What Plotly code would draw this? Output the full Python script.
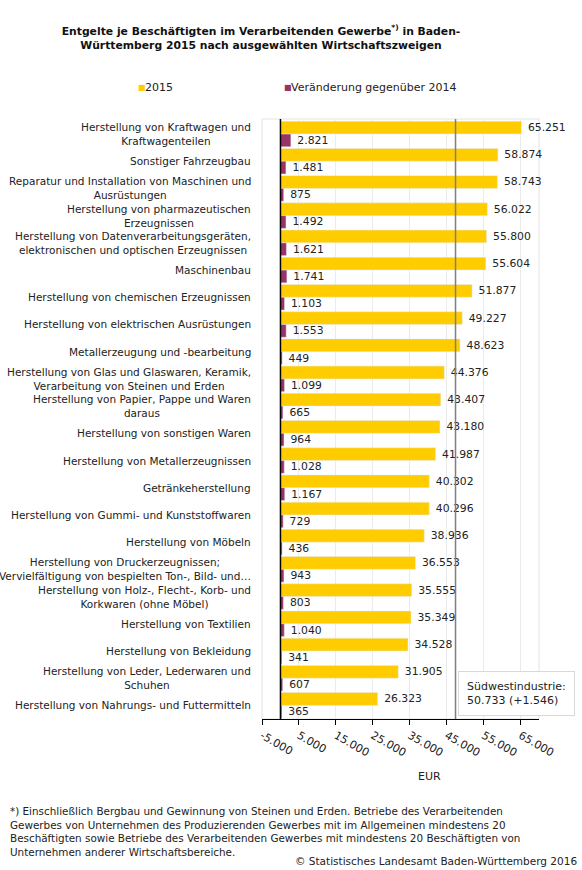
import plotly.graph_objects as go

# Entgelte je Beschaeftigten 2015 und Veraenderung gegenueber 2014 (EUR)
branchen = [
    "Herstellung von Kraftwagen und<br>Kraftwagenteilen",
    "Sonstiger Fahrzeugbau",
    "Reparatur und Installation von Maschinen und<br>Ausrüstungen",
    "Herstellung von pharmazeutischen<br>Erzeugnissen",
    "Herstellung von Datenverarbeitungsgeräten,<br>elektronischen und optischen Erzeugnissen",
    "Maschinenbau",
    "Herstellung von chemischen Erzeugnissen",
    "Herstellung von elektrischen Ausrüstungen",
    "Metallerzeugung und -bearbeitung",
    "Herstellung von Glas und Glaswaren, Keramik,<br>Verarbeitung von Steinen und Erden",
    "Herstellung von Papier, Pappe und Waren<br>daraus",
    "Herstellung von sonstigen Waren",
    "Herstellung von Metallerzeugnissen",
    "Getränkeherstellung",
    "Herstellung von Gummi- und Kunststoffwaren",
    "Herstellung von Möbeln",
    "Herstellung von Druckerzeugnissen;<br>Vervielfältigung von bespielten Ton-, Bild- und…",
    "Herstellung von Holz-, Flecht-, Korb- und<br>Korkwaren (ohne Möbel)",
    "Herstellung von Textilien",
    "Herstellung von Bekleidung",
    "Herstellung von Leder, Lederwaren und<br>Schuhen",
    "Herstellung von Nahrungs- und Futtermitteln",
]
werte_2015 = [65251, 58874, 58743, 56022, 55800, 55604, 51877, 49227, 48623, 44376, 43407,
              43180, 41987, 40302, 40296, 38936, 36553, 35555, 35349, 34528, 31905, 26323]
veraenderung = [2821, 1481, 875, 1492, 1621, 1741, 1103, 1553, 449, 1099, 665,
                964, 1028, 1167, 729, 436, 943, 803, 1040, 341, 607, 365]

tick_werte = [-5000, 5000, 15000, 25000, 35000, 45000, 55000, 65000]
tick_texte = [f"{v:,}".replace(",", ".") for v in tick_werte]

suedwest = "Südwestindustrie:<br>50.733 (+1.546)"
linie_x = 47400  # grey reference line, as drawn in the original

GELB = "#FFCC00"
LILA = "#993366"
FONT = "DejaVu Sans"
TXT = "#222222"

fig = go.Figure()
fig.add_trace(go.Bar(
    y=list(range(len(branchen))), x=werte_2015, orientation="h", name="2015",
    marker_color=GELB, texttemplate=" %{x:,}", textposition="outside",
    textfont=dict(size=11, color=TXT), cliponaxis=False,
))
fig.add_trace(go.Bar(
    y=list(range(len(branchen))), x=veraenderung, orientation="h",
    name="Veränderung gegenüber 2014",
    marker_color=LILA, texttemplate=" %{x:,}", textposition="outside",
    textfont=dict(size=11, color=TXT), cliponaxis=False,
))


def px_x(p):
    return (p - 262) / 277


def px_y(p):
    return (719 - p) / 600


ann = []
for i, b in enumerate(branchen):
    ann.append(dict(xref="paper", yref="y", x=0, y=i, xanchor="right", xshift=-9,
                    text=b, showarrow=False, align="center",
                    font=dict(size=10.5, color=TXT)))

# legend drawn as text
for sx, tx, farbe, name in [(136, 143, GELB, "2015"),
                            (282, 289, LILA, "Veränderung gegenüber 2014")]:
    ann.append(dict(xref="paper", yref="paper", x=px_x(sx), y=px_y(88),
                    xanchor="left", yanchor="middle", showarrow=False,
                    text="■", font=dict(size=8, color=farbe)))
    ann.append(dict(xref="paper", yref="paper", x=px_x(tx), y=px_y(87),
                    xanchor="left", yanchor="middle", showarrow=False,
                    text=name, font=dict(size=11, color=TXT)))

ann.append(dict(xref="paper", yref="paper", x=px_x(458), y=px_y(671),
                xanchor="left", yanchor="top", showarrow=False, align="left",
                text=suedwest, bgcolor="white", bordercolor="#D9D9D9", borderwidth=1,
                borderpad=8, font=dict(size=11, color=TXT)))

ann.append(dict(xref="paper", yref="paper", x=px_x(429), y=px_y(776),
                xanchor="center", yanchor="middle", showarrow=False,
                text="EUR", font=dict(size=11, color=TXT)))

fussnote = ("*) Einschließlich Bergbau und Gewinnung von Steinen und Erden. Betriebe des Verarbeitenden<br>"
            "Gewerbes von Unternehmen des Produzierenden Gewerbes mit im Allgemeinen mindestens 20<br>"
            "Beschäftigten sowie Betriebe des Verarbeitenden Gewerbes mit mindestens 20 Beschäftigten von<br>"
            "Unternehmen anderer Wirtschaftsbereiche.")
ann.append(dict(xref="paper", yref="paper", x=px_x(8), y=px_y(803),
                xanchor="left", yanchor="top", showarrow=False, align="left",
                text=fussnote, font=dict(size=10.4, color=TXT)))
ann.append(dict(xref="paper", yref="paper", x=px_x(579), y=px_y(861),
                xanchor="right", yanchor="middle", showarrow=False,
                text="© Statistisches Landesamt Baden-Württemberg 2016",
                font=dict(size=10.5, color=TXT)))

fig.update_layout(
    width=582, height=870,
    margin=dict(l=262, r=43, t=119, b=151),
    paper_bgcolor="white", plot_bgcolor="white",
    font=dict(family=FONT, size=11, color=TXT),
    separators=",.",
    barmode="group", bargap=0.06, bargroupgap=0,
    showlegend=False,
    title=dict(text="Entgelte je Beschäftigten im Verarbeitenden Gewerbe<sup>*)</sup> in Baden-<br>"
                    "Württemberg 2015 nach ausgewählten Wirtschaftszweigen",
               x=261 / 582, xanchor="center", y=1 - 35 / 870, yanchor="middle",
               font=dict(family=FONT, size=10.8, color="#111111", weight="bold")),
    annotations=ann,
    shapes=[
        dict(type="rect", xref="paper", yref="paper", x0=0, x1=1, y0=0, y1=1,
             line=dict(color="#E3E3E3", width=1), layer="below"),
        dict(type="line", xref="x", yref="paper", x0=0, x1=0, y0=0, y1=1,
             line=dict(color="black", width=1.5), layer="above"),
        dict(type="line", xref="x", yref="paper", x0=linie_x, x1=linie_x, y0=0, y1=1,
             line=dict(color="#7F7F7F", width=1.5), layer="above"),
    ],
)
fig.update_xaxes(
    range=[-5000, 70000], tickvals=tick_werte, ticktext=tick_texte, tickangle=30,
    showgrid=True, gridcolor="#EBEBEB", zeroline=False,
    showline=True, linecolor="black", linewidth=1,
    ticks="outside", ticklen=5, tickcolor="black",
    tickfont=dict(size=11, color=TXT),
)
fig.update_yaxes(autorange="reversed", showticklabels=False, showgrid=False, zeroline=False)

fig.write_html("out.html", config={"displayModeBar": False},
               post_script="document.body.style.margin='0';")
